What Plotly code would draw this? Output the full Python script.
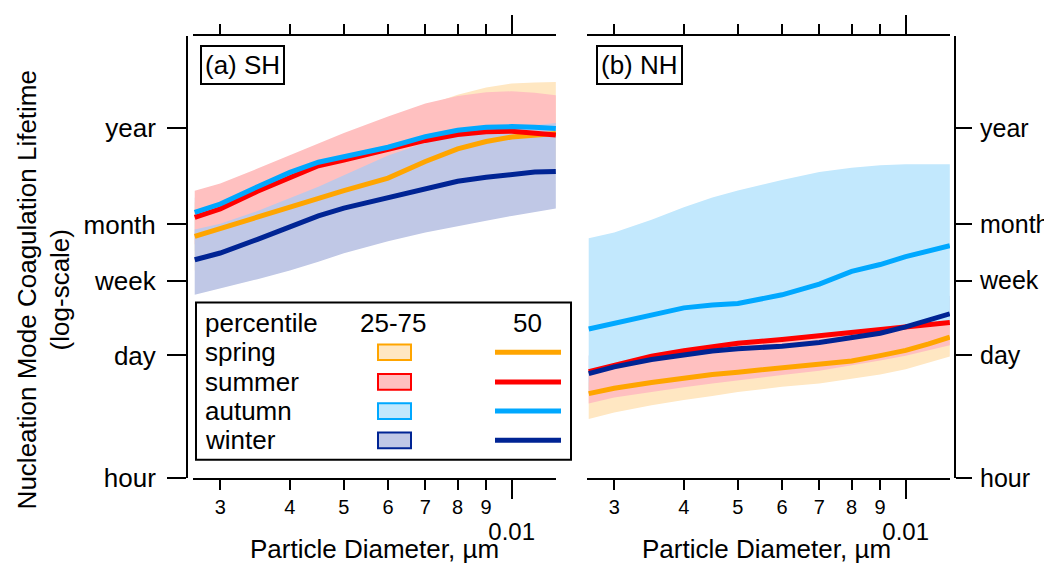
import numpy as np
import plotly.graph_objects as go

# ---------------- data (lifetime in days) ----------------
diam = [0.0027, 0.003, 0.0035, 0.004, 0.0045, 0.005, 0.006, 0.007, 0.008, 0.009, 0.010, 0.011, 0.012]

# (a) SH
sh_spring_50 = [22, 27, 36.5, 47.6, 60.6, 72.3, 100, 154, 214, 259, 291, 310, 318]
sh_spring_25 = [9.1, 11.2, 15.1, 19.7, 25, 30, 41.5, 64, 89, 107, 120, 128, 131]
sh_spring_75 = [53, 65, 96, 136, 189, 250, 404, 653, 873, 1055, 1168, 1197, 1212]
sh_summer_50 = [36, 45, 71, 102, 138, 160, 209, 266, 310, 334, 338, 326, 306]
sh_summer_25 = [18, 21, 29, 40, 55, 74, 123, 171, 209, 237, 256, 273, 287]
sh_summer_75 = [72, 87, 128, 180, 247, 322, 494, 695, 841, 930, 954, 918, 862]
sh_autumn_50 = [41, 51, 80, 116, 151, 173, 223, 294, 347, 374, 381, 374, 362]
sh_autumn_25 = [15, 18.6, 29, 42, 55, 63, 81, 107, 126, 136, 139, 136, 132]
sh_autumn_75 = [60, 75, 117, 169, 220, 253, 326, 430, 507, 547, 556, 547, 529]
sh_winter_50 = [12, 14.3, 20.4, 28.4, 37.5, 45.9, 60.6, 76, 92, 102, 111, 117, 119]
sh_winter_25 = [4.83, 5.7, 7.24, 9.09, 11.4, 14.2, 19.4, 24.4, 28.4, 33, 37.5, 41.5, 45.3]
sh_winter_75 = [26.3, 30.6, 42.5, 59.1, 80, 108, 180, 250, 306, 347, 374, 399, 419]

# (b) NH
nh_spring_50 = [0.371, 0.427, 0.496, 0.556, 0.608, 0.648, 0.725, 0.782, 0.866, 0.995, 1.14, 1.35, 1.61]
nh_spring_25 = [0.192, 0.227, 0.274, 0.315, 0.348, 0.386, 0.443, 0.484, 0.549, 0.608, 0.698, 0.823, 0.97]
nh_spring_75 = [0.5, 0.58, 0.67, 0.75, 0.82, 0.87, 0.98, 1.06, 1.17, 1.34, 1.54, 1.82, 2.17]
nh_summer_50 = [0.656, 0.782, 0.982, 1.13, 1.25, 1.37, 1.51, 1.67, 1.83, 1.97, 2.15, 2.26, 2.35]
nh_summer_25 = [0.288, 0.335, 0.386, 0.437, 0.484, 0.529, 0.6, 0.672, 0.773, 0.877, 0.995, 1.14, 1.3]
nh_summer_75 = [0.69, 0.82, 1.03, 1.19, 1.31, 1.44, 1.59, 1.75, 1.92, 2.07, 2.26, 2.38, 2.47]
nh_autumn_50 = [1.99, 2.32, 2.91, 3.44, 3.71, 3.85, 4.83, 6.38, 8.87, 10.6, 13, 15.1, 17.3]
nh_autumn_25 = [0.41, 0.47, 0.55, 0.61, 0.67, 0.71, 0.8, 0.86, 0.95, 1.09, 1.25, 1.48, 1.77]
nh_autumn_75 = [21, 24.4, 33.9, 47, 60.6, 72.3, 95.5, 117, 131, 140, 143, 143, 143]
nh_winter_50 = [0.623, 0.744, 0.899, 1.02, 1.12, 1.19, 1.27, 1.4, 1.59, 1.78, 2.1, 2.47, 2.95]
nh_winter_25 = [0.374, 0.45, 0.54, 0.61, 0.67, 0.71, 0.76, 0.84, 0.95, 1.07, 1.26, 1.48, 1.77]
nh_winter_75 = [1.0, 1.19, 1.44, 1.63, 1.79, 1.9, 2.03, 2.24, 2.54, 2.85, 3.36, 3.95, 4.72]

seasons = ["spring", "summer", "autumn", "winter"]
x_tickvals = [0.003, 0.004, 0.005, 0.006, 0.007, 0.008, 0.009, 0.01]
x_ticktext = ["3", "4", "5", "6", "7", "8", "9", "<br><span style='font-size:24px'>0.01</span>"]
y_tickvals = [1 / 24, 1, 7, 30, 365]
y_ticktext = ["hour", "day", "week", "month", "year"]

# ---------------- styles ----------------
FONT = "Liberation Sans"
W, H = 1052, 571
line_col = {"spring": "#FFA500", "summer": "#FF0000", "autumn": "#00A8FF", "winter": "#002494"}
fill_col = {"spring": "#FFE7C2", "summer": "#FFC0C0", "autumn": "#C2E8FD", "winter": "#C0C8E6"}


def px(x):
    return x / W


def py(y):
    return 1 - y / H


data = {
    "a": {
        "spring": (sh_spring_25, sh_spring_50, sh_spring_75),
        "summer": (sh_summer_25, sh_summer_50, sh_summer_75),
        "autumn": (sh_autumn_25, sh_autumn_50, sh_autumn_75),
        "winter": (sh_winter_25, sh_winter_50, sh_winter_75),
    },
    "b": {
        "spring": (nh_spring_25, nh_spring_50, nh_spring_75),
        "summer": (nh_summer_25, nh_summer_50, nh_summer_75),
        "autumn": (nh_autumn_25, nh_autumn_50, nh_autumn_75),
        "winter": (nh_winter_25, nh_winter_50, nh_winter_75),
    },
}
band_order = {"a": ["autumn", "spring", "summer", "winter"],
              "b": ["winter", "autumn", "spring", "summer"]}
axes = {"a": ("x", "y"), "b": ("x2", "y2")}

fig = go.Figure()
for p in ["a", "b"]:
    xa, ya = axes[p]
    for s in band_order[p]:
        lo, md, hi = data[p][s]
        fig.add_trace(go.Scatter(
            x=diam + diam[::-1], y=list(hi) + list(lo)[::-1],
            fill="toself", fillcolor=fill_col[s], line=dict(width=0),
            mode="lines", hoverinfo="skip", showlegend=False, xaxis=xa, yaxis=ya))
    for s in seasons:
        lo, md, hi = data[p][s]
        fig.add_trace(go.Scatter(
            x=diam, y=md, mode="lines",
            line=dict(color=line_col[s], width=5),
            showlegend=False, name=s, xaxis=xa, yaxis=ya))

xcommon = dict(
    type="log", range=[-2.5717, -1.9205], showgrid=False, zeroline=False,
    showline=True, linecolor="black", linewidth=2, mirror="ticks",
    ticks="outside", ticklen=10, tickwidth=2, tickcolor="black",
    tickmode="array", tickvals=x_tickvals, ticktext=x_ticktext, tickangle=0,
    tickfont=dict(family=FONT, size=20, color="black"),
    minor=dict(tickmode="array", tickvals=[0.01], ticks="outside", ticklen=19,
               tickwidth=2, tickcolor="black", showgrid=False),
)
ydom = [py(482.5), py(29)]
ycommon = dict(
    type="log", range=[np.log10(1 / 24), 3.600], domain=ydom, showgrid=False,
    zeroline=False, showline=True, linecolor="black", linewidth=2,
    ticks="outside", tickwidth=2, tickcolor="black",
    tickmode="array", tickvals=y_tickvals, ticktext=y_ticktext, anchor="free",
)

fig.update_layout(
    width=W, height=H, margin=dict(l=0, r=0, t=0, b=0),
    paper_bgcolor="white", plot_bgcolor="rgba(0,0,0,0)",
    font=dict(family=FONT, color="black"),
    xaxis=dict(**xcommon, domain=[px(185), px(548)], anchor="y"),
    xaxis2=dict(**xcommon, domain=[px(579), px(942)], anchor="y2"),
    yaxis=dict(**ycommon, position=px(179), side="left", ticklen=19, ticklabelstandoff=6,
               tickfont=dict(family=FONT, size=26, color="black")),
    yaxis2=dict(**ycommon, position=px(947), side="right", ticklen=16, ticklabelstandoff=3,
                tickfont=dict(family=FONT, size=25, color="black")),
)

ann = []
shapes = []
# y title
ann.append(dict(text="Nucleation Mode Coagulation Lifetime<br>(log-scale)", textangle=-90,
                x=px(36), y=py(290), xref="paper", yref="paper", showarrow=False,
                font=dict(family=FONT, size=26, color="black"), xanchor="center", yanchor="middle"))
# x titles
for cx in [366.5, 758]:
    ann.append(dict(text="Particle Diameter, µm", x=px(cx), y=py(556), xref="paper", yref="paper",
                    showarrow=False, font=dict(family=FONT, size=26, color="black"),
                    xanchor="center", yanchor="middle"))
# panel labels
for txt, lx in [("(a) SH", 192), ("(b) NH", 588)]:
    ann.append(dict(text=txt, x=px(lx), y=py(38), xref="paper", yref="paper", showarrow=False,
                    font=dict(family=FONT, size=26, color="black"), xanchor="left", yanchor="top",
                    bordercolor="black", borderwidth=2, borderpad=3, bgcolor="white"))

# legend box
shapes.append(dict(type="rect", xref="paper", yref="paper", x0=px(188), x1=px(563),
                   y0=py(464), y1=py(302.5), line=dict(color="black", width=2),
                   fillcolor="white", layer="above"))
lf = dict(family=FONT, size=26, color="black")
ann.append(dict(text="percentile", x=px(195), y=py(323), xref="paper", yref="paper",
                showarrow=False, font=lf, xanchor="left", yanchor="middle"))
ann.append(dict(text="25-75", x=px(385), y=py(323), xref="paper", yref="paper",
                showarrow=False, font=lf, xanchor="center", yanchor="middle"))
ann.append(dict(text="50", x=px(519), y=py(323), xref="paper", yref="paper",
                showarrow=False, font=lf, xanchor="center", yanchor="middle"))
rows = [353.5, 384, 414, 444]
for s, ry in zip(seasons, rows):
    ann.append(dict(text=s, x=px(195), y=py(ry), xref="paper", yref="paper",
                    showarrow=False, font=lf, xanchor="left", yanchor="middle"))
    shapes.append(dict(type="rect", xref="paper", yref="paper", x0=px(370), x1=px(403),
                       y0=py(ry + 8), y1=py(ry - 8), line=dict(color=line_col[s], width=2),
                       fillcolor=fill_col[s], layer="above"))
    shapes.append(dict(type="line", xref="paper", yref="paper", x0=px(487), x1=px(553),
                       y0=py(ry), y1=py(ry), line=dict(color=line_col[s], width=5), layer="above"))

fig.update_layout(annotations=ann, shapes=shapes)
fig.write_html("out.html")
